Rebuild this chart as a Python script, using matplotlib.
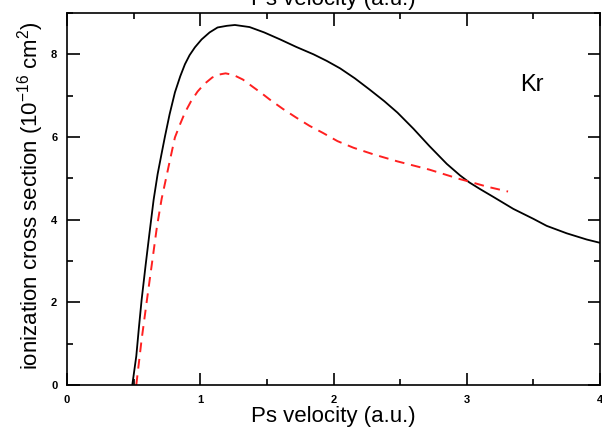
import matplotlib
matplotlib.use("Agg")
import matplotlib.pyplot as plt
from matplotlib.ticker import MultipleLocator

plt.rcParams['font.family'] = ['Liberation Sans', 'DejaVu Sans']
plt.rcParams['mathtext.fontset'] = 'custom'
plt.rcParams['mathtext.rm'] = 'Liberation Sans'
plt.rcParams['mathtext.it'] = 'Liberation Sans'

# Black solid curve
black_x = [0.49, 0.52, 0.54, 0.56, 0.59, 0.62, 0.65, 0.68, 0.71, 0.735, 0.77, 0.81,
           0.85, 0.885, 0.92, 0.96, 1.01, 1.07, 1.13, 1.20, 1.26, 1.37, 1.48, 1.60, 1.72,
           1.85, 1.95, 2.05, 2.16, 2.27, 2.38, 2.48, 2.60, 2.72, 2.85, 2.95, 3.02,
           3.10, 3.20, 3.35, 3.50, 3.60, 3.75, 3.90, 4.00]
black_y = [0.0, 0.7, 1.4, 2.06, 2.9, 3.7, 4.48, 5.1, 5.6, 6.01, 6.55, 7.08,
           7.47, 7.76, 7.98, 8.17, 8.36, 8.53, 8.65, 8.69, 8.71, 8.66, 8.53, 8.36, 8.18,
           8.0, 7.84, 7.66, 7.42, 7.15, 6.87, 6.59, 6.2, 5.78, 5.35, 5.07, 4.9,
           4.74, 4.55, 4.26, 4.02, 3.85, 3.67, 3.52, 3.44]

# Red dashed curve
red_x = [0.52, 0.56, 0.60, 0.64, 0.675, 0.71, 0.75, 0.78, 0.81, 0.85, 0.885, 0.93,
         0.98, 1.03, 1.09, 1.14, 1.19, 1.25, 1.32, 1.40, 1.46, 1.52, 1.62, 1.72,
         1.82, 1.92, 2.03, 2.15, 2.30, 2.48, 2.60, 2.72, 2.85, 2.95, 3.02, 3.15, 3.31]
red_y = [0.0, 1.1, 2.06, 3.0, 3.83, 4.5, 5.1, 5.55, 5.99, 6.32, 6.59, 6.86,
         7.1, 7.28, 7.44, 7.51, 7.54, 7.5, 7.39, 7.2, 7.06, 6.91, 6.68, 6.47,
         6.27, 6.1, 5.9, 5.74, 5.58, 5.41, 5.31, 5.21, 5.08, 4.98, 4.92, 4.8, 4.68]

fig = plt.figure(figsize=(6.02, 4.38), dpi=100)
ax = fig.add_axes([67/602, 53/438, 533/602, 372/438])

ax.plot(black_x, black_y, color='black', lw=1.3)
ax.plot(red_x, red_y, color='#ff2020', lw=1.4, dashes=(5, 3.5))

ax.set_xlim(0, 4)
ax.set_ylim(0, 9)
ax.xaxis.set_major_locator(MultipleLocator(1))
ax.xaxis.set_minor_locator(MultipleLocator(0.5))
ax.yaxis.set_major_locator(MultipleLocator(2))
ax.yaxis.set_minor_locator(MultipleLocator(1))
ax.tick_params(which='both', direction='in', top=True, right=True, width=1.2)
ax.tick_params(which='major', length=9, labelsize=8, pad=7)
ax.tick_params(which='minor', length=4.5)
for lab in ax.get_xticklabels() + ax.get_yticklabels():
    lab.set_fontweight('bold')
for s in ax.spines.values():
    s.set_linewidth(1.2)

ax.set_xlabel('Ps velocity (a.u.)', fontsize=16, labelpad=1)
ax.set_ylabel(r'ionization cross section (10$^{-16}$ cm$^{2}$)', fontsize=16)
ax.yaxis.set_label_coords(-0.04, 0.51)
ax.text(3.49, 7.27, 'Kr', fontsize=17, ha='center', va='center')

fig.text(333/602, 1 - 5/438, 'Ps velocity (a.u.)', fontsize=16, ha='center', va='baseline')

fig.savefig('out.png', dpi=100)
